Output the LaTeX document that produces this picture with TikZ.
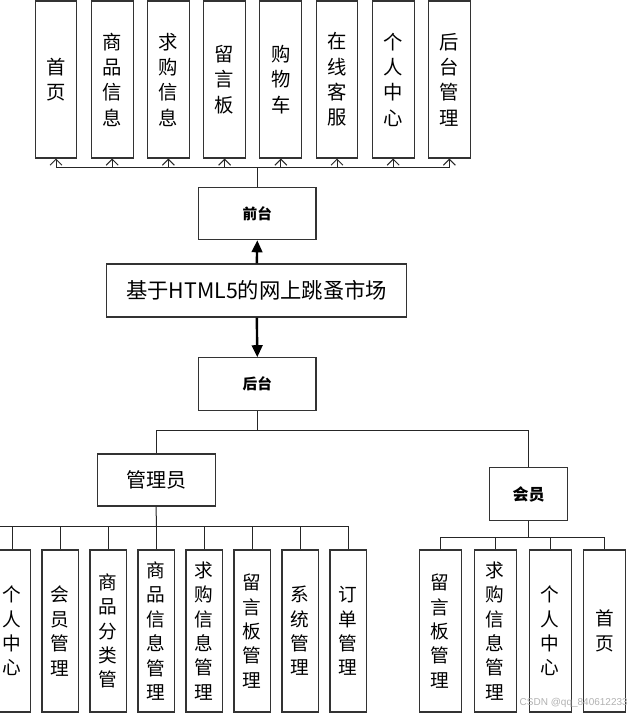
\documentclass[tikz,border=0pt]{standalone}
\usepackage{fontspec}
\setmainfont{Noto Sans CJK SC}
\newfontfamily\wmfont{Liberation Sans}
\usetikzlibrary{arrows.meta}
\begin{document}
\begin{tikzpicture}[x=0.75pt,y=-0.75pt,
  box/.style={draw=black!80, line width=0.8pt, inner sep=0pt, align=center, fill=white},
  topbox/.style={box, minimum width=31.3pt, minimum height=117.75pt, font=\fontsize{14.5}{19}\selectfont},
  llbox/.style={box, minimum width=27.5pt, minimum height=121.5pt, font=\fontsize{14}{18.3}\selectfont},
  lrbox/.style={box, minimum width=31.3pt, minimum height=121.5pt, font=\fontsize{14}{18.3}\selectfont},
  midbox/.style={box, minimum width=88pt, minimum height=39.4pt, font=\bfseries\fontsize{11}{13}\selectfont},
  conn/.style={draw=black!85, line width=0.75pt},
  uparr/.style={conn, -{Straight Barb[length=4.5pt,width=9pt]}},
  thick arr/.style={draw=black, line width=1.8pt, -{Triangle[length=9pt,width=8pt]}}
]
\useasboundingbox (0,0) rectangle (639,714);
\clip (0,0) rectangle (639,714);
\fill[white] (0,0) rectangle (639,714);

% top row
\node[topbox] (t1) at (56,79.5) {首\\页};
\node[topbox] (t2) at (112.2,79.5) {商\\品\\信\\息};
\node[topbox] (t3) at (168.4,79.5) {求\\购\\信\\息};
\node[topbox] (t4) at (224.6,79.5) {留\\言\\板};
\node[topbox] (t5) at (280.8,79.5) {购\\物\\车};
\node[topbox] (t6) at (337,79.5) {在\\线\\客\\服};
\node[topbox] (t7) at (393.2,79.5) {个\\人\\中\\心};
\node[topbox] (t8) at (449.4,79.5) {后\\台\\管\\理};

% middle column
\node[midbox] (qt) at (257.3,213.5) {前台};
\node[box, minimum width=225pt, minimum height=39.75pt, font=\fontsize{16}{19}\selectfont] (title) at (256.8,290.5) {基于HTML5的网上跳蚤市场};
\node[midbox] (ht) at (257.3,384) {后台};

\coordinate (tb) at (257.3,167.7);
\draw[conn] (qt.north) -- (tb);
\foreach \i in {1,...,8} {\draw[uparr] (tb) -| (t\i.south);}

\draw[thick arr] (title.north) -- (qt.south);
\draw[thick arr] (title.south) -- (ht.north);

% second level
\node[box, minimum width=88.3pt, minimum height=39pt, font=\fontsize{15}{18}\selectfont] (gly) at (156.2,480) {管理员};
\node[box, minimum width=58.8pt, minimum height=39.2pt, font=\bfseries\fontsize{12}{14}\selectfont] (hy) at (528.5,494) {会员};
\coordinate (hb) at (257.3,430.5);
\draw[conn] (ht.south) -- (hb);
\draw[conn] (hb) -| (gly.north);
\draw[conn] (hb) -| (hy.north);

% admin children
\node[llbox] (l1) at (12.3,631) {个\\人\\中\\心};
\node[llbox] (l2) at (60.3,631) {会\\员\\管\\理};
\node[llbox] (l3) at (108.3,631) {商\\品\\分\\类\\管};
\node[llbox] (l4) at (156.3,631) {商\\品\\信\\息\\管\\理};
\node[llbox] (l5) at (204.3,631) {求\\购\\信\\息\\管\\理};
\node[llbox] (l6) at (252.3,631) {留\\言\\板\\管\\理};
\node[llbox] (l7) at (300.3,631) {系\\统\\管\\理};
\node[llbox] (l8) at (348.3,631) {订\\单\\管\\理};
\coordinate (gb) at (156.3,526);
\draw[conn] (gly.south) -- (gb);
\foreach \i in {1,...,8} {\draw[conn] (gb) -| (l\i.north);}
\draw[conn] (gb) -- (0,526);

% member children
\node[lrbox] (r1) at (440.2,631) {留\\言\\板\\管\\理};
\node[lrbox] (r2) at (495.2,631) {求\\购\\信\\息\\管\\理};
\node[lrbox] (r3) at (550.2,631) {个\\人\\中\\心};
\node[lrbox] (r4) at (604.8,631) {首\\页};
\coordinate (mb) at (528.5,537.7);
\draw[conn] (hy.south) -- (mb);
\foreach \i in {1,...,4} {\draw[conn] (mb) -| (r\i.north);}

\node[font=\wmfont\fontsize{7.5}{9}\selectfont, text=black!30, anchor=east, inner sep=0pt] (wm) at (628,703) {CSDN @qq\_840612233};
\end{tikzpicture}
\end{document}
